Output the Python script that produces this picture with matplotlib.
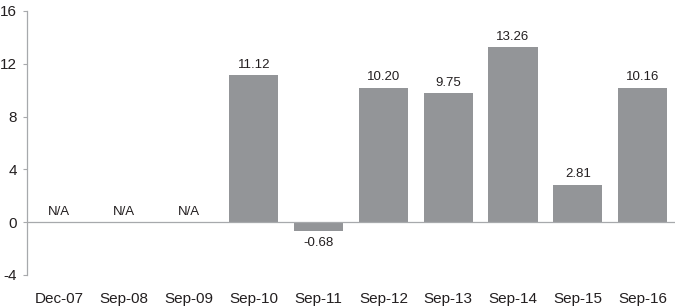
import matplotlib
matplotlib.use("Agg")
import matplotlib.pyplot as plt

categories = ["Dec-07", "Sep-08", "Sep-09", "Sep-10", "Sep-11", "Sep-12", "Sep-13", "Sep-14", "Sep-15", "Sep-16"]
values = [None, None, None, 11.12, -0.68, 10.20, 9.75, 13.26, 2.81, 10.16]
yticks = [-4, 0, 4, 8, 12, 16]

plt.rcParams['font.family'] = ['Liberation Sans', 'DejaVu Sans']

fig = plt.figure(figsize=(6.75, 3.07), dpi=100)
ax = fig.add_axes([27/675, (307-275)/307, 1 - 27/675, (275-11)/307])

bar_color = "#939598"
axis_color = "#a7a9ac"
text_color = "#231f20"
xs = list(range(len(categories)))
for x, v in zip(xs, values):
    if v is None:
        ax.text(x, 0.35, "N/A", ha="center", va="bottom", fontsize=9.5, color=text_color)
        continue
    ax.bar(x, v, width=0.76, color=bar_color, zorder=2)
    if v >= 0:
        ax.text(x, v + 0.35, f"{v:.2f}", ha="center", va="bottom", fontsize=9.5, color=text_color)
    else:
        ax.text(x, v - 0.45, f"{v:.2f}", ha="center", va="top", fontsize=9.5, color=text_color)

ax.axhline(0, color=axis_color, lw=0.9, zorder=3)
ax.set_xlim(-0.5, 9.5)
ax.set_ylim(-4, 16)
ax.set_yticks(yticks)
ax.set_yticklabels([str(t) for t in yticks], fontsize=11, color=text_color)
ax.set_xticks(xs)
ax.set_xticklabels(categories, fontsize=11, color=text_color)
ax.tick_params(axis="x", length=0, pad=12)
ax.tick_params(axis="y", length=3, width=0.8, color=axis_color, pad=4)
for s in ["top", "right", "bottom"]:
    ax.spines[s].set_visible(False)
ax.spines["left"].set_color(axis_color)
ax.spines["left"].set_linewidth(0.9)

fig.savefig("out.png", dpi=100)
